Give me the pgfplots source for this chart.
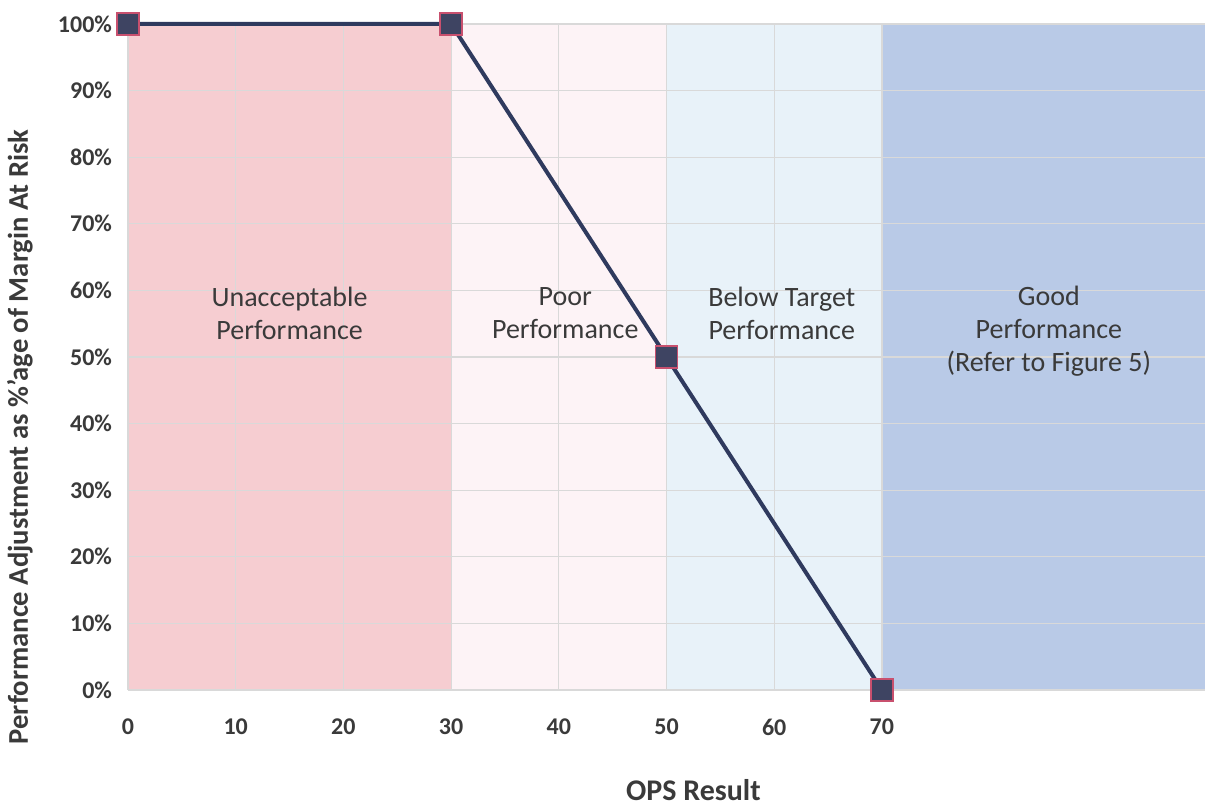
\documentclass[border=0pt]{standalone}
\usepackage{pgfplots}
\pgfplotsset{compat=1.18}
\usepackage{fontspec}
\setmainfont{Carlito}

\definecolor{txt}{HTML}{3A3A3A}
\definecolor{unacc}{HTML}{F6CDD1}
\definecolor{poor}{HTML}{FDF3F6}
\definecolor{below}{HTML}{E8F2F9}
\definecolor{good}{HTML}{B9CAE7}
\definecolor{lineblue}{HTML}{2F3A5E}
\definecolor{markfill}{HTML}{3E4462}
\definecolor{markedge}{HTML}{C8506E}

\begin{document}
\begin{tikzpicture}
\begin{axis}[
  set layers,
  scale only axis,
  width=538.5pt, height=333pt,
  xmin=0, xmax=100, ymin=0, ymax=100,
  xtick={0,10,...,70},
  ytick={0,10,...,100},
  yticklabel={\pgfmathprintnumber{\tick}\%},
  /pgf/number format/assume math mode=true,
  tick label style={font=\bfseries\fontsize{12}{14}\selectfont, text=txt},
  xticklabel style={yshift=-11pt},
  yticklabel style={xshift=-4.5pt},
  major tick length=0pt,
  axis line style={draw=none},
  grid=major,
  grid style={draw=black!15, line width=0.6pt},
  xlabel={OPS Result},
  ylabel={Performance Adjustment as \%'age of Margin At Risk},
  xlabel style={font=\bfseries\fontsize{15}{18}\selectfont, text=txt,
    at={(axis description cs:0.525,-0.150)}, anchor=center},
  ylabel style={font=\bfseries\fontsize{14.3}{17}\selectfont, text=txt,
    at={(axis description cs:-0.1003,0.38)}, anchor=center},
  clip=false,
]
% performance bands
\addplot[fill=unacc, draw=none, on layer=axis background] coordinates {(0,100) (30,100)} \closedcycle;
\addplot[fill=poor,  draw=none, on layer=axis background] coordinates {(30,100) (50,100)} \closedcycle;
\addplot[fill=below, draw=none, on layer=axis background] coordinates {(50,100) (70,100)} \closedcycle;
\addplot[fill=good,  draw=none, on layer=axis background] coordinates {(70,100) (100,100)} \closedcycle;

% adjustment curve
\addplot[color=lineblue, line width=2pt,
  mark=square*, mark size=5.5pt,
  mark options={fill=markfill, draw=markedge, line width=0.8pt}]
  coordinates {(0,100) (30,100) (50,50) (70,0)};

\begin{scope}[every node/.style={align=center, text=txt,
    font=\fontsize{14}{16.5}\selectfont}]
\node at (axis cs:15,56.6) {Unacceptable\\Performance};
\node at (axis cs:40.6,56.6) {Poor\\Performance};
\node at (axis cs:60.7,56.6) {Below Target\\Performance};
\node at (axis cs:85.5,53.8) {Good\\Performance\\(Refer to Figure 5)};
\end{scope}

\coordinate (bbsw) at (rel axis cs:0,0);
\coordinate (bbne) at (rel axis cs:1,1);
\end{axis}
\pgfresetboundingbox
\useasboundingbox ([shift={(-64pt,-57.5pt)}]bbsw) rectangle ([shift={(2.5pt,12pt)}]bbne);
\end{tikzpicture}
\end{document}
